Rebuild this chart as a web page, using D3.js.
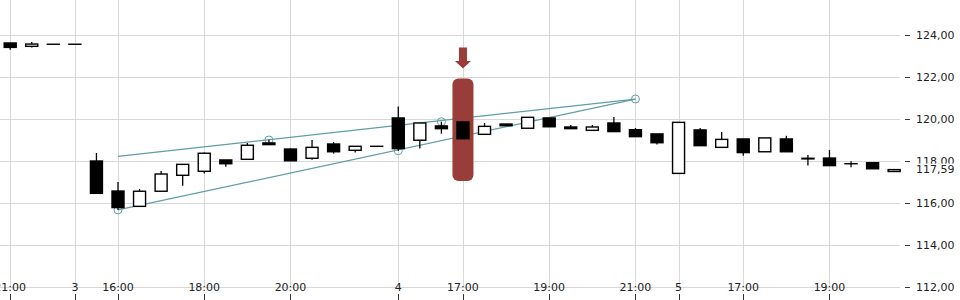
<!DOCTYPE html>
<html>
<head>
<meta charset="utf-8">
<script src="https://cdn.jsdelivr.net/npm/d3@7"></script>
<style>
  body { margin: 0; background: #fff; }
  svg { display: block; font-family: "DejaVu Sans", sans-serif; }
</style>
</head>
<body>
<div id="chart"></div>
<script>
// 30 minute candles, day 2 evening to day 5
const times = [
  "2 21:00", "2 21:30", "2 22:00",
  "3 15:00", "3 15:30", "3 16:00", "3 16:30", "3 17:00", "3 17:30", "3 18:00", "3 18:30",
  "3 19:00", "3 19:30", "3 20:00", "3 20:30", "3 21:00", "3 21:30", "3 22:00",
  "4 15:30", "4 16:00", "4 16:30", "4 17:00", "4 17:30", "4 18:00", "4 18:30", "4 19:00",
  "4 19:30", "4 20:00", "4 20:30", "4 21:00", "4 21:30",
  "5 15:30", "5 16:00", "5 16:30", "5 17:00", "5 17:30", "5 18:00", "5 18:30", "5 19:00",
  "5 19:30", "5 20:00", "5 20:30"
];
const open  = [123.62, 123.46, 123.56, 123.56, 118.00, 116.57, 115.84, 116.56, 117.32, 117.51, 118.05,
               118.08, 118.86, 118.57, 118.13, 118.81, 118.51, 118.70, 120.05, 118.99, 119.67, 119.86,
               119.27, 119.76, 119.56, 120.05, 119.62, 119.46, 119.81, 119.49, 119.29, 117.41, 119.48,
               118.65, 119.05, 118.44, 119.05, 118.13, 118.14, 117.87, 117.92, 117.50];
const high  = [123.62, 123.67, 123.56, 123.56, 118.38, 117.00, 116.67, 117.52, 117.84, 118.41, 118.05,
               118.86, 119.01, 118.60, 119.00, 118.90, 118.70, 118.70, 120.59, 119.81, 119.87, 119.86,
               119.81, 119.76, 120.08, 120.05, 119.71, 119.71, 120.10, 119.57, 119.29, 119.84, 119.57,
               119.38, 119.05, 119.10, 119.20, 118.29, 118.52, 117.99, 117.92, 117.59];
const low   = [123.30, 123.40, 123.56, 123.56, 116.46, 115.67, 115.84, 116.56, 116.82, 117.40, 117.73,
               118.08, 118.78, 118.01, 118.06, 118.35, 118.40, 118.70, 118.49, 118.59, 119.30, 119.06,
               119.27, 119.68, 119.56, 119.63, 119.54, 119.46, 119.40, 119.16, 118.78, 117.41, 118.73,
               118.65, 118.25, 118.44, 118.44, 117.78, 117.78, 117.70, 117.63, 117.50];
const close = [123.41, 123.57, 123.56, 123.56, 116.46, 115.78, 116.56, 117.38, 117.84, 118.37, 117.87,
               118.75, 118.78, 118.01, 118.65, 118.44, 118.70, 118.70, 118.59, 119.81, 119.54, 119.06,
               119.65, 119.68, 120.08, 119.63, 119.54, 119.62, 119.40, 119.16, 118.87, 119.84, 118.73,
               119.03, 118.40, 119.10, 118.44, 118.10, 117.78, 117.87, 117.63, 117.59];

const tickTimes  = ["2 21:00", "3 15:00", "3 16:00", "3 18:00", "3 20:00", "4 15:30", "4 17:00",
                    "4 19:00", "4 21:00", "5 15:30", "5 17:00", "5 19:00"];
const tickLabels = ["21:00", "3", "16:00", "18:00", "20:00", "4", "17:00", "19:00", "21:00", "5", "17:00", "19:00"];
const priceTicks = [112, 114, 116, 118, 120, 122, 124];
const lastPrice = 117.59;

// trend channel drawn by hand on the chart
const upperLine = [["3 16:00", 118.22], ["4 21:00", 120.95]];
const lowerLine = [["3 16:00", 115.67], ["4 21:00", 120.95]];
const pivots = [["3 16:00", 115.67], ["3 19:30", 119.00], ["4 15:30", 118.49], ["4 16:30", 119.87], ["4 21:00", 120.95]];

// highlighted candle
const markTime = "4 17:00";
const markRange = [117.05, 121.93];

const width = 960, height = 300;
const plotRight = 900, plotBottom = 287;

const x = d3.scalePoint().domain(times).range([10.2, 10.2 + 41 * 21.56]);
const y = d3.scaleLinear().domain([112, 124]).range([287, 35]);

const locale = d3.formatLocale({decimal: ",", thousands: ".", grouping: [3], currency: ["", "€"]});
const fmt = locale.format(".2f");

const svg = d3.select("#chart").append("svg")
  .attr("width", width)
  .attr("height", height);

// grid
svg.append("g").selectAll("line")
  .data(priceTicks)
  .join("line")
  .attr("x1", 0).attr("x2", plotRight)
  .attr("y1", d => y(d) + 0.5).attr("y2", d => y(d) + 0.5)
  .attr("stroke", "#d8d8d8");

svg.append("g").selectAll("line")
  .data(tickTimes)
  .join("line")
  .attr("x1", d => Math.round(x(d)) + 0.5).attr("x2", d => Math.round(x(d)) + 0.5)
  .attr("y1", 0).attr("y2", plotBottom)
  .attr("stroke", "#d8d8d8");

// trend channel
const teal = "#5e9fa6";
const line = d3.line().x(d => x(d[0])).y(d => y(d[1]));
svg.append("g").selectAll("path")
  .data([upperLine, lowerLine])
  .join("path")
  .attr("d", line)
  .attr("fill", "none")
  .attr("stroke", teal)
  .attr("stroke-width", 1.2);

svg.append("g").selectAll("circle")
  .data(pivots)
  .join("circle")
  .attr("cx", d => x(d[0]))
  .attr("cy", d => y(d[1]))
  .attr("r", 4)
  .attr("fill", "none")
  .attr("stroke", teal)
  .attr("stroke-width", 1);

// highlight + arrow
const red = "#983d37";
const mx = x(markTime);
svg.append("rect")
  .attr("x", mx - 10.5)
  .attr("y", y(markRange[1]))
  .attr("width", 21)
  .attr("height", y(markRange[0]) - y(markRange[1]))
  .attr("rx", 6)
  .attr("fill", red);

const ay = y(markRange[1]);
svg.append("path")
  .attr("d", `M${mx - 4},${ay - 31} h8 v13.5 h4 l-8,7.5 l-8,-7.5 h4 z`)
  .attr("fill", red);

// candles
const candles = svg.append("g").selectAll("g")
  .data(times.map((t, i) => ({t, o: open[i], h: high[i], l: low[i], c: close[i]})))
  .join("g");

candles.append("line")
  .attr("x1", d => x(d.t)).attr("x2", d => x(d.t))
  .attr("y1", d => y(d.h)).attr("y2", d => y(d.l))
  .attr("stroke", "#000")
  .attr("stroke-width", 1.3);

candles.append("rect")
  .attr("x", d => x(d.t) - 6)
  .attr("width", 12)
  .attr("y", d => y(Math.max(d.o, d.c)))
  .attr("height", d => Math.max(0.01, Math.abs(y(d.o) - y(d.c))))
  .attr("fill", d => d.c < d.o ? "#000" : "#fff")
  .attr("stroke", "#000")
  .attr("stroke-width", 1.4);

// right price axis
const yAxis = svg.append("g")
  .attr("transform", `translate(905,0)`)
  .call(d3.axisRight(y).tickValues(priceTicks).tickSize(5).tickPadding(6).tickFormat(fmt));
yAxis.select(".domain").remove();
yAxis.selectAll("text").attr("font-size", 11).attr("fill", "#222").attr("font-family", "DejaVu Sans");
yAxis.selectAll(".tick line").attr("stroke", "#333");

// last price label
const lp = svg.append("g").attr("transform", `translate(905,${y(lastPrice)})`);
lp.append("rect").attr("x", 4).attr("y", -6).attr("width", 55).attr("height", 13).attr("fill", "#fff");
lp.append("text")
  .attr("x", 11).attr("dy", "0.32em")
  .attr("font-size", 11).attr("fill", "#222")
  .text(fmt(lastPrice));

// bottom time axis
const xAxis = svg.append("g");
xAxis.selectAll("line")
  .data(tickTimes)
  .join("line")
  .attr("x1", d => Math.round(x(d)) + 0.5).attr("x2", d => Math.round(x(d)) + 0.5)
  .attr("y1", 294).attr("y2", 300)
  .attr("stroke", "#333");
xAxis.selectAll("text")
  .data(tickTimes)
  .join("text")
  .attr("x", d => x(d))
  .attr("y", 291)
  .attr("text-anchor", "middle")
  .attr("font-size", 11)
  .attr("fill", "#222")
  .text((d, i) => tickLabels[i]);
</script>
</body>
</html>
